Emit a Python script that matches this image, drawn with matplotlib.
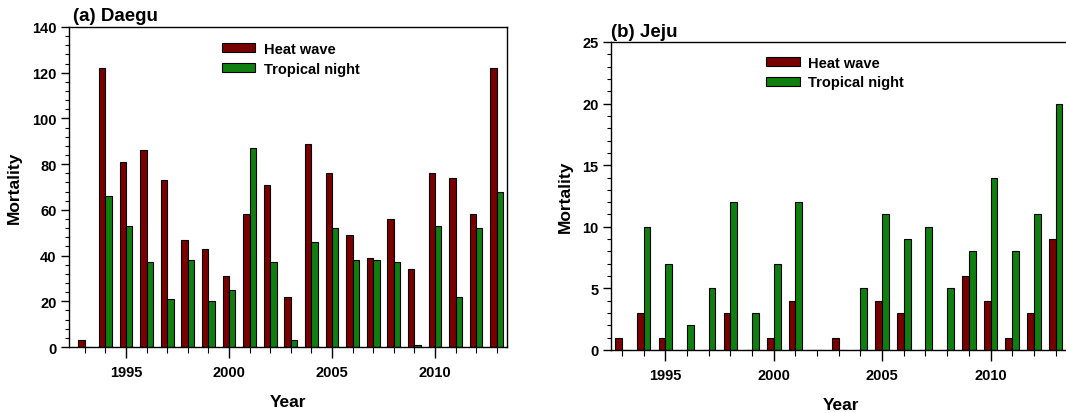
import matplotlib.pyplot as plt
import numpy as np
from matplotlib.patches import Patch
from matplotlib.ticker import MultipleLocator

plt.rcParams['font.family'] = 'Liberation Sans'
plt.rcParams['font.weight'] = 'bold'

years = np.arange(1993, 2014)

# Daegu
daegu_heat = [3, 122, 81, 86, 73, 47, 43, 31, 58, 71, 22, 89, 76, 49, 39, 56, 34, 76, 74, 58, 122]
daegu_night = [0, 66, 53, 37, 21, 38, 20, 25, 87, 37, 3, 46, 52, 38, 38, 37, 1, 53, 22, 52, 68]

# Jeju
jeju_heat = [1, 3, 1, 0, 0, 3, 0, 1, 4, 0, 1, 0, 4, 3, 0, 0, 6, 4, 1, 3, 9]
jeju_night = [0, 10, 7, 2, 5, 12, 3, 7, 12, 0, 0, 5, 11, 9, 10, 5, 8, 14, 8, 11, 20]

RED = '#7a0000'
GREEN = '#0f7f0f'
W = 0.31

fig = plt.figure(figsize=(10.66, 4.14), dpi=100)
ax1 = fig.add_axes([0.0647, 0.1594, 0.4109, 0.7730])
ax2 = fig.add_axes([0.5732, 0.1522, 0.4310, 0.7440])


def draw(ax, heat, night, ymax, major, minor, xlim, title, title_x, legend_pos):
    ax.bar(years - W / 2, heat, width=W, color=RED, edgecolor='black', linewidth=0.8)
    ax.bar(years + W / 2, night, width=W, color=GREEN, edgecolor='black', linewidth=0.8)
    ax.set_xlim(*xlim)
    ax.set_ylim(0, ymax)
    ax.xaxis.set_major_locator(MultipleLocator(5))
    ax.xaxis.set_minor_locator(MultipleLocator(1))
    ax.yaxis.set_major_locator(MultipleLocator(major))
    ax.yaxis.set_minor_locator(MultipleLocator(minor))
    ax.tick_params(axis='both', which='major', labelsize=10.5, width=1.0, direction='out')
    ax.tick_params(axis='x', which='major', length=8, pad=5)
    ax.tick_params(axis='x', which='minor', length=4, width=0.8)
    ax.tick_params(axis='y', which='major', length=6, pad=3)
    ax.tick_params(axis='y', which='minor', length=3, width=0.8)
    for lab in ax.get_xticklabels() + ax.get_yticklabels():
        lab.set_fontweight('bold')
    for sp in ax.spines.values():
        sp.set_linewidth(1.0)
    ax.set_xlabel('Year', fontsize=12.5, fontweight='bold', labelpad=11)
    ax.set_ylabel('Mortality', fontsize=12.5, fontweight='bold', labelpad=7)
    ax.text(title_x, 1.008, title, transform=ax.transAxes, fontsize=13.5,
            fontweight='bold', ha='left', va='bottom')
    handles = [Patch(facecolor=RED, edgecolor='black', linewidth=0.8, label='Heat wave'),
               Patch(facecolor=GREEN, edgecolor='black', linewidth=0.8, label='Tropical night')]
    leg = ax.legend(handles=handles, loc='upper left', bbox_to_anchor=legend_pos,
                    frameon=False, fontsize=10.5, handlelength=2.3, handleheight=0.6,
                    handletextpad=0.6, labelspacing=0.4, borderaxespad=0)
    for t in leg.get_texts():
        t.set_fontweight('bold')


draw(ax1, daegu_heat, daegu_night, 140, 20, 4, (1992.23, 2013.5), '(a) Daegu', 0.01,
     (0.335, 0.972))
draw(ax2, jeju_heat, jeju_night, 25, 5, 1, (1992.49, 2013.69), '(b) Jeju', 0.0,
     (0.325, 0.975))

fig.savefig('out.png', dpi=100)
